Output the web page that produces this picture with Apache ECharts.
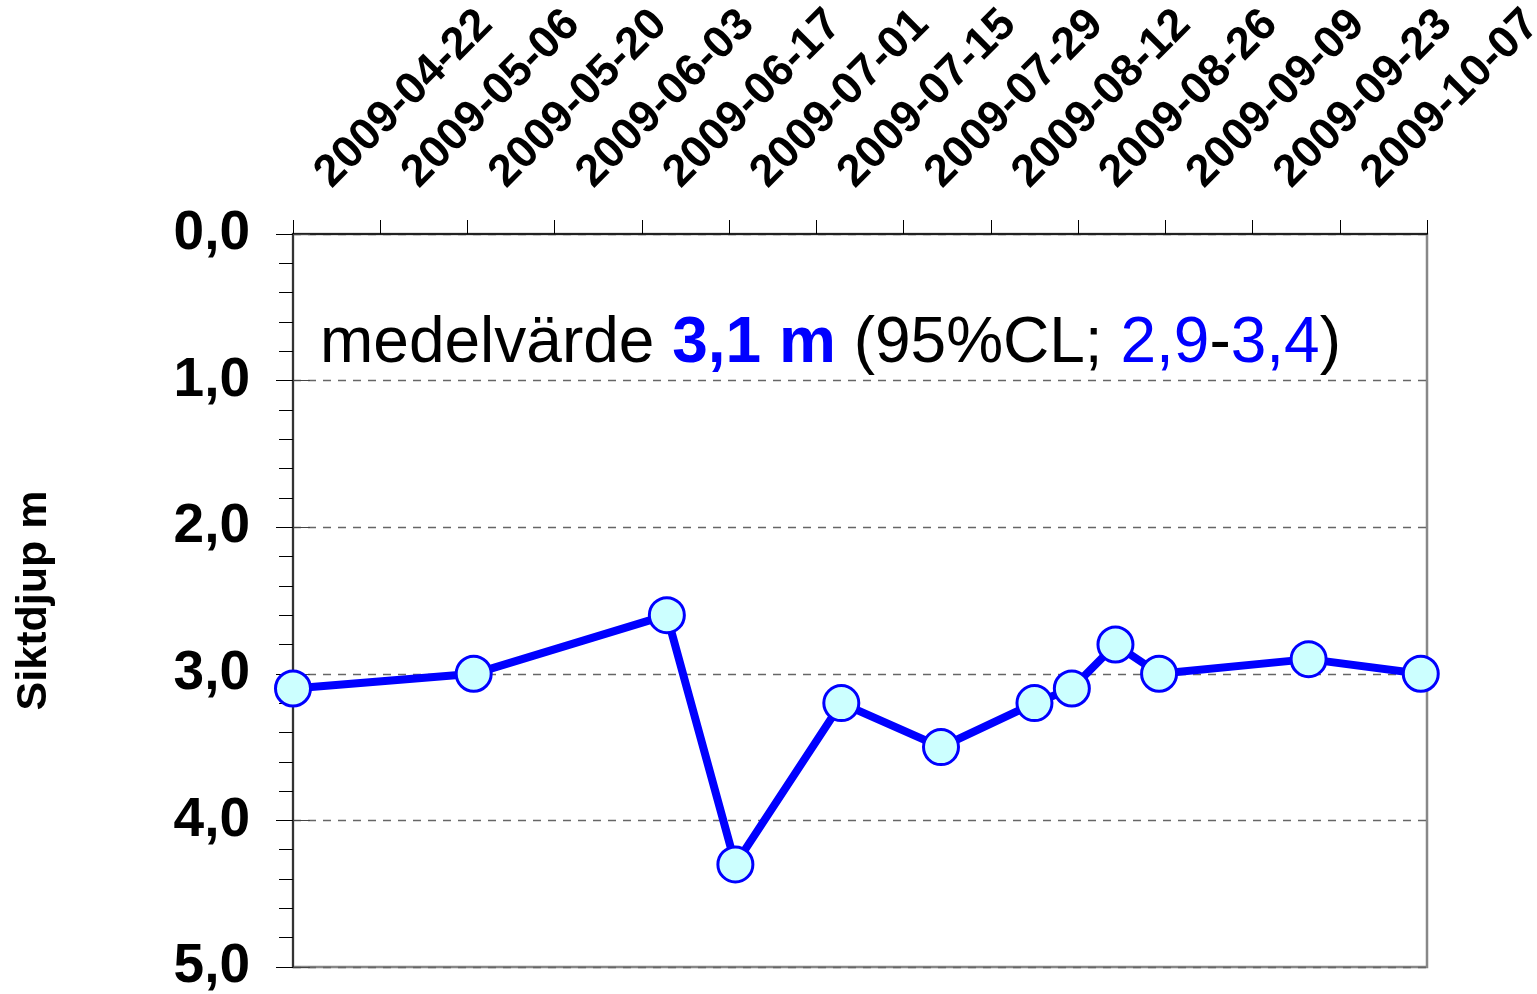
<!DOCTYPE html>
<html>
<head>
<meta charset="utf-8">
<script src="https://cdn.jsdelivr.net/npm/echarts@6/dist/echarts.min.js"></script>
<style>
  html, body { margin: 0; padding: 0; background: #fff; }
  #chart { width: 1537px; height: 994px; }
</style>
</head>
<body>
<div id="chart"></div>
<script>
// siktdjup per provtagningsdatum
var startDate = '2009-04-22';
var sampleDates = ['2009-04-22', '2009-05-21', '2009-06-21', '2009-07-02', '2009-07-19', '2009-08-04',
                   '2009-08-19', '2009-08-25', '2009-09-01', '2009-09-08', '2009-10-02', '2009-10-20'];
var depth = [3.1, 3.0, 2.6, 4.3, 3.2, 3.5, 3.2, 3.1, 2.8, 3.0, 2.9, 3.0];
var dayStep = 14;      // dagar mellan datumetiketter
var dayCount = 182;    // axelns längd i dagar
var yMin = 0, yMax = 5;

var DAY = 86400000;
function dayOf(d) { return (Date.parse(d) - Date.parse(startDate)) / DAY; }
function dateOf(n) { return new Date(Date.parse(startDate) + n * DAY).toISOString().slice(0, 10); }

var points = sampleDates.map(function (d, i) { return [dayOf(d), depth[i]]; });

var FONT = "'Liberation Sans', Arial, Helvetica, sans-serif";
var chart = echarts.init(document.getElementById('chart'));

var option = {
  backgroundColor: '#fff',
  animation: false,
  grid: {
    left: 293, top: 234, width: 1134, height: 733,
    show: true, borderColor: '#888', borderWidth: 2.5,
    containLabel: false, outerBoundsMode: 'none'
  },
  xAxis: {
    type: 'value',
    position: 'top',
    min: 0, max: dayCount, interval: dayStep,
    axisLine: { show: true, lineStyle: { color: '#222', width: 2 } },
    axisTick: { show: true, inside: false, length: 14, lineStyle: { color: '#000', width: 1 } },
    splitLine: { show: false },
    axisLabel: {
      rotate: 45,
      margin: 24,
      padding: [0, 0, 0, 42],
      color: '#000',
      fontFamily: FONT,
      fontWeight: 'bold',
      fontSize: 45,
      showMaxLabel: true,
      formatter: function (v) { return v > dayCount - dayStep ? '' : dateOf(v); }
    }
  },
  yAxis: [{
    type: 'value',
    inverse: true,
    min: yMin, max: yMax, interval: 1,
    name: 'Siktdjup m',
    nameLocation: 'middle',
    nameGap: 237,
    nameTextStyle: { color: '#000', fontFamily: FONT, fontWeight: 'bold', fontSize: 43 },
    axisLine: { show: true, lineStyle: { color: '#333', width: 2 } },
    axisTick: { show: true, length: 17, lineStyle: { color: '#000', width: 1 } },
    minorTick: { show: true, splitNumber: 5, length: 14, lineStyle: { color: '#000', width: 1 } },
    splitLine: { show: true, lineStyle: { color: '#666', width: 1.3, type: [8, 7] } },
    axisLabel: {
      margin: 43,
      color: '#000',
      fontFamily: FONT,
      fontWeight: 'bold',
      fontSize: 55,
      formatter: function (v) { return v.toFixed(1).replace('.', ','); }
    }
  }, {
    // inåtriktade huvudstreck
    type: 'value',
    inverse: true,
    position: 'left',
    min: yMin, max: yMax, interval: 1,
    axisLine: { show: false },
    axisTick: { show: true, inside: true, length: 17, lineStyle: { color: '#444', width: 1 } },
    splitLine: { show: false },
    axisLabel: { show: false }
  }],
  graphic: [{
    type: 'text',
    left: 320,
    top: 312,
    style: {
      text: '{a|medelvärde }{b|3,1 m}{a| (95%CL; }{c|2,9}{a|-}{c|3,4}{a|)}',
      font: '64px ' + FONT,
      rich: {
        a: { fontFamily: FONT, fontSize: 64, fill: '#000' },
        b: { fontFamily: FONT, fontSize: 64, fontWeight: 'bold', fill: '#0000ff' },
        c: { fontFamily: FONT, fontSize: 64, fill: '#0000ff' }
      }
    }
  }],
  series: [{
    type: 'line',
    data: points,
    clip: false,
    symbol: 'circle',
    symbolSize: 35,
    lineStyle: { color: '#0000ff', width: 8 },
    itemStyle: { color: '#ccffff', borderColor: '#0000ff', borderWidth: 3 },
    z: 5
  }]
};

chart.setOption(option);
</script>
</body>
</html>
